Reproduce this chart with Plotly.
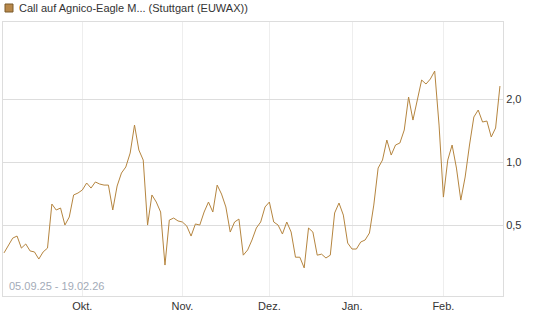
import pandas as pd
import plotly.graph_objects as go

# trading days (Stuttgart), 05.09.25 - 19.02.26
holidays = ["2025-12-24", "2025-12-25", "2025-12-26", "2025-12-31", "2026-01-01"]
days = [d for d in pd.bdate_range("2025-09-05", "2026-02-19").strftime("%Y-%m-%d") if d not in holidays]

prices = [
    0.368, 0.401, 0.433, 0.443, 0.388, 0.406, 0.376, 0.372, 0.344, 0.372,
    0.388, 0.630, 0.590, 0.603, 0.500, 0.546, 0.696, 0.711, 0.735, 0.794,
    0.751, 0.803, 0.785, 0.776, 0.776, 0.590, 0.768, 0.886, 0.947, 1.104,
    1.502, 1.141, 1.022, 0.500, 0.696, 0.644, 0.577, 0.322, 0.528, 0.540,
    0.523, 0.517, 0.495, 0.443, 0.506, 0.500, 0.577, 0.644, 0.577, 0.776,
    0.703, 0.610, 0.463, 0.517, 0.534, 0.359, 0.380, 0.424, 0.484, 0.517,
    0.610, 0.644, 0.517, 0.500, 0.453, 0.517, 0.463, 0.351, 0.351, 0.312,
    0.484, 0.463, 0.359, 0.363, 0.348, 0.359, 0.571, 0.637, 0.558, 0.410,
    0.384, 0.384, 0.415, 0.424, 0.458, 0.623, 0.936, 1.022, 1.274, 1.080,
    1.206, 1.233, 1.422, 2.045, 1.587, 1.978, 2.465, 2.359, 2.492, 2.721,
    1.502, 0.680, 1.022, 1.206, 0.936, 0.658, 0.848, 1.206, 1.641, 1.772,
    1.553, 1.570, 1.317, 1.454, 2.307,
]
days = days[:len(prices)]

month_ticks = ["2025-10-01", "2025-11-03", "2025-12-01", "2026-01-02", "2026-02-02"]
month_labels = ["Okt.", "Nov.", "Dez.", "Jan.", "Feb."]
y_ticks = [0.5, 1.0, 2.0]
y_labels = ["0,5", "1,0", "2,0"]

line_color = "#b5853f"
font = "Liberation Sans, Arial, sans-serif"

fig = go.Figure()
fig.add_trace(go.Scatter(x=days, y=prices, mode="lines",
                         line=dict(color=line_color, width=1),
                         hoverinfo="x+y", showlegend=False))

fig.update_layout(
    width=545, height=327,
    margin=dict(l=3, r=42, t=22, b=31),
    paper_bgcolor="white", plot_bgcolor="white",
    font=dict(family=font, size=11, color="#333333"),
    showlegend=False,
    xaxis=dict(type="category", range=[-0.23, 114.7],
               tickmode="array", tickvals=month_ticks, ticktext=month_labels,
               showgrid=True, gridcolor="#eeeeee", gridwidth=1,
               showline=True, linecolor="#dddddd", mirror=True,
               ticks="", tickangle=0, zeroline=False),
    yaxis=dict(type="log", range=[-0.640, 0.669], side="right",
               tickmode="array", tickvals=y_ticks, ticktext=y_labels,
               showgrid=True, gridcolor="#dddddd", gridwidth=1,
               showline=True, linecolor="#dddddd", mirror=True,
               ticks="", zeroline=False),
    annotations=[
        dict(text="Call auf Agnico-Eagle M... (Stuttgart (EUWAX))",
             xref="paper", yref="paper", x=0, y=1, xshift=14, yshift=14,
             xanchor="left", yanchor="middle", showarrow=False,
             font=dict(size=11, color="#333333", family=font)),
        dict(text="05.09.25 - 19.02.26",
             xref="paper", yref="paper", x=0, y=0, xshift=4, yshift=2,
             xanchor="left", yanchor="bottom", showarrow=False,
             font=dict(size=11, color="#a3abb8", family=font)),
    ],
    shapes=[
        dict(type="rect", xref="paper", yref="paper",
             xsizemode="pixel", ysizemode="pixel", xanchor=0, yanchor=1,
             x0=2, x1=10, y0=10, y1=18,
             fillcolor="#b8884a", line=dict(color="#7a5a2a", width=1)),
    ],
)

fig.write_html("out.html")
